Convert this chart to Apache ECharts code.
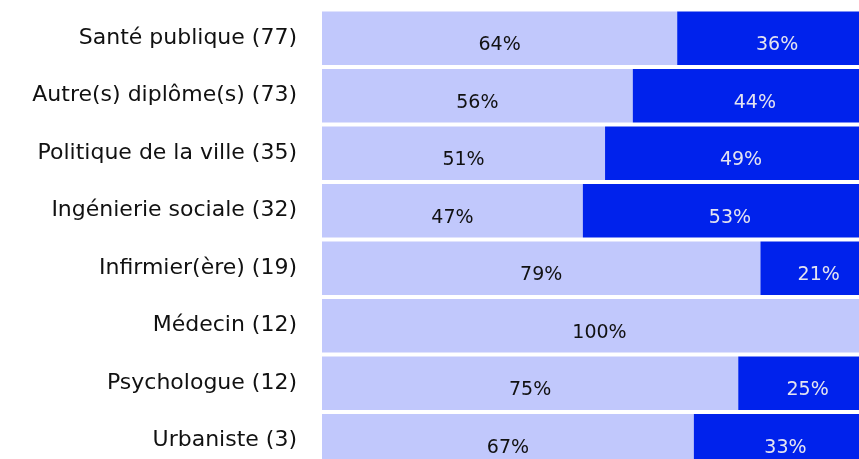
<!DOCTYPE html>
<html>
<head>
<meta charset="utf-8">
<script src="https://cdn.jsdelivr.net/npm/echarts@6/dist/echarts.min.js"></script>
<style>html,body{margin:0;padding:0;background:#fff;overflow:hidden}#c{width:900px;height:480px}</style>
</head>
<body>
<div id="c"></div>
<script>
const categories = ['Santé publique (77)','Autre(s) diplôme(s) (73)','Politique de la ville (35)','Ingénierie sociale (32)','Infirmier(ère) (19)','Médecin (12)','Psychologue (12)','Urbaniste (3)'];
const lightValues = [64,56,51,47,79,100,75,67];
const darkValues = [36,44,49,53,21,0,25,33];

const FONT = 'DejaVu Sans';
const chart = echarts.init(document.getElementById('c'), null, {renderer:'canvas'});
chart.setOption({
  animation:false,
  grid:{left:322, top:9.5, width:555, height:460, containLabel:false},
  xAxis:{type:'value', min:0, max:100, show:false},
  yAxis:{type:'category', data:categories, inverse:true,
    axisLine:{show:false}, axisTick:{show:false},
    axisLabel:{fontFamily:FONT, fontSize:22, color:'#111', margin:25, padding:[8,0,0,0]}},
  series:[
    {type:'bar', stack:'s', data:lightValues, barCategoryGap:'7%',
     itemStyle:{color:'#c1c8fc'},
     label:{show:true, position:'inside', offset:[0,7], fontFamily:FONT, fontSize:19, color:'#111',
       formatter:p=>p.value>0?p.value+'%':''}},
    {type:'bar', stack:'s', data:darkValues, barCategoryGap:'7%',
     itemStyle:{color:'#0022ec'},
     label:{show:true, position:'inside', offset:[0,7], fontFamily:FONT, fontSize:19, color:'#e4e4f0',
       formatter:p=>p.value>0?p.value+'%':''}}
  ]
});
</script>
</body>
</html>
